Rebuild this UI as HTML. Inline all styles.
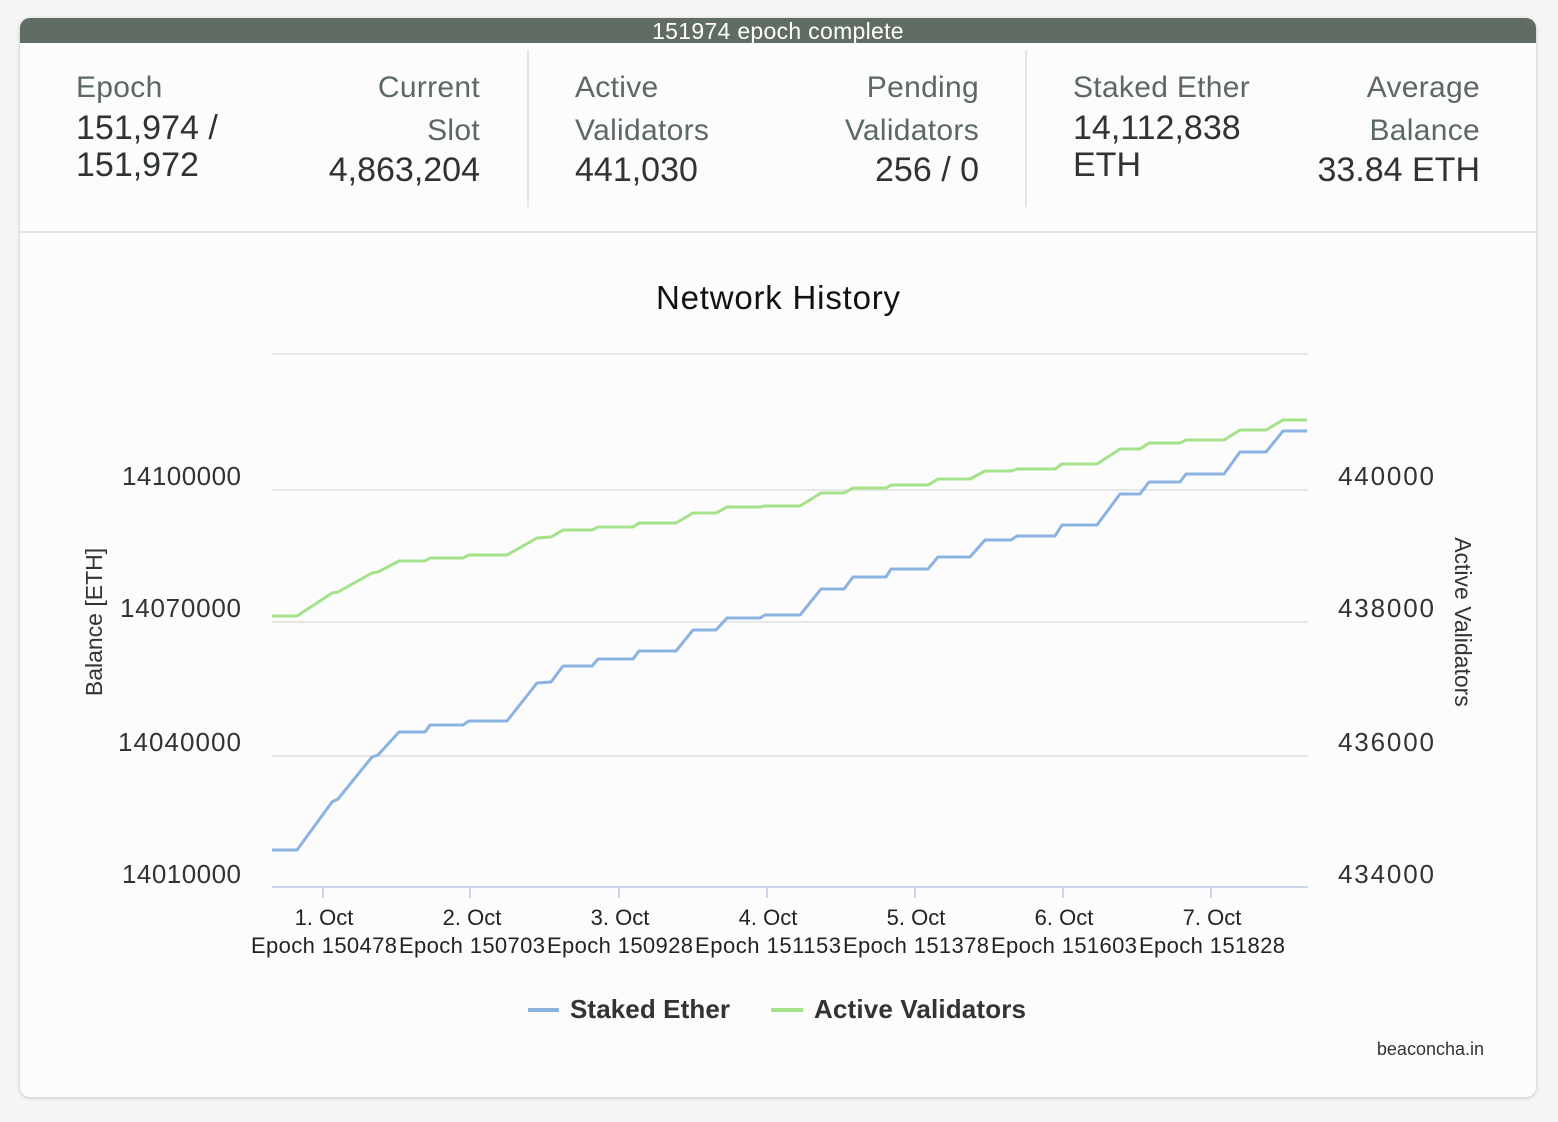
<!DOCTYPE html>
<html><head><meta charset="utf-8"><style>
body{margin:0;width:1558px;height:1122px;background:#f5f5f5;font-family:"Liberation Sans",sans-serif;position:relative;overflow:hidden}
.card{position:absolute;left:20px;top:18px;width:1516px;height:1079px;background:#fcfcfc;border-radius:10px;box-shadow:0 1px 4px rgba(0,0,0,.2);overflow:hidden}
.bar{position:absolute;left:0;top:0;width:100%;height:25px;background:#616d64;color:#fff;font-size:23px;text-align:center;line-height:27px;letter-spacing:0.3px}
.t{position:absolute;font-size:30px;line-height:40px;color:#5c6862;white-space:nowrap;letter-spacing:0.3px}
.v{position:absolute;font-size:34px;line-height:40px;color:#2f3433;white-space:nowrap}
.vl{position:absolute;top:32px;width:2px;height:157px;background:#e4e4e4}
.hl{position:absolute;left:0;top:213px;width:100%;height:2px;background:#e2e2e2}
svg{position:absolute;left:0;top:0}
</style></head><body>
<div class="card">
<div class="bar">151974 epoch complete</div>
<div class="t" style="left:56px;top:50px">Epoch</div>
<div class="v" style="left:56px;top:90px">151,974 /</div>
<div class="v" style="left:56px;top:127px">151,972</div>
<div class="t" style="right:1056px;top:50px">Current</div>
<div class="t" style="right:1056px;top:93px">Slot</div>
<div class="v" style="right:1056px;top:132px">4,863,204</div>
<div class="vl" style="left:507px"></div>
<div class="t" style="left:555px;top:50px">Active</div>
<div class="t" style="left:555px;top:93px">Validators</div>
<div class="v" style="left:555px;top:132px">441,030</div>
<div class="t" style="right:557px;top:50px">Pending</div>
<div class="t" style="right:557px;top:93px">Validators</div>
<div class="v" style="right:557px;top:132px">256 / 0</div>
<div class="vl" style="left:1005px"></div>
<div class="t" style="left:1053px;top:50px">Staked Ether</div>
<div class="v" style="left:1053px;top:90px">14,112,838</div>
<div class="v" style="left:1053px;top:127px">ETH</div>
<div class="t" style="right:56px;top:50px">Average</div>
<div class="t" style="right:56px;top:93px">Balance</div>
<div class="v" style="right:56px;top:132px">33.84 ETH</div>
<div class="hl"></div>
</div>
<svg width="1558" height="1122" font-family="Liberation Sans, sans-serif">
<text x="656" y="309" font-size="33" textLength="244" fill="#111">Network History</text>
<g stroke="#e6e6e6" stroke-width="2">
<line x1="272" y1="354" x2="1308" y2="354"/><line x1="272" y1="490" x2="1308" y2="490"/><line x1="272" y1="622" x2="1308" y2="622"/><line x1="272" y1="756" x2="1308" y2="756"/></g>
<line x1="272" y1="887" x2="1308" y2="887" stroke="#ccd6eb" stroke-width="2"/>
<g stroke="#ccd6eb" stroke-width="2"><line x1="323" y1="887" x2="323" y2="898"/><line x1="470" y1="887" x2="470" y2="898"/><line x1="619" y1="887" x2="619" y2="898"/><line x1="767" y1="887" x2="767" y2="898"/><line x1="915" y1="887" x2="915" y2="898"/><line x1="1063" y1="887" x2="1063" y2="898"/><line x1="1211" y1="887" x2="1211" y2="898"/></g>
<g font-size="26" fill="#333">
<text x="122" y="485" textLength="119">14100000</text><text x="120" y="617" textLength="121">14070000</text><text x="118" y="751" textLength="123">14040000</text><text x="122" y="883" textLength="119">14010000</text></g>
<g font-size="26" fill="#333">
<text x="1338" y="485" textLength="96">440000</text><text x="1338" y="617" textLength="96">438000</text><text x="1338" y="751" textLength="96">436000</text><text x="1338" y="883" textLength="96">434000</text></g>
<text transform="translate(102,622) rotate(-90)" font-size="23" fill="#333" text-anchor="middle">Balance [ETH]</text>
<text transform="translate(1455,622) rotate(90)" font-size="23" fill="#333" text-anchor="middle">Active Validators</text>
<g font-size="22" fill="#222" text-anchor="middle">
<text x="324" y="925">1. Oct</text><text x="324" y="953" textLength="146">Epoch 150478</text>
<text x="472" y="925">2. Oct</text><text x="472" y="953" textLength="146">Epoch 150703</text>
<text x="620" y="925">3. Oct</text><text x="620" y="953" textLength="146">Epoch 150928</text>
<text x="768" y="925">4. Oct</text><text x="768" y="953" textLength="146">Epoch 151153</text>
<text x="916" y="925">5. Oct</text><text x="916" y="953" textLength="146">Epoch 151378</text>
<text x="1064" y="925">6. Oct</text><text x="1064" y="953" textLength="146">Epoch 151603</text>
<text x="1212" y="925">7. Oct</text><text x="1212" y="953" textLength="146">Epoch 151828</text></g>
<polyline fill="none" stroke="#a4e28a" stroke-width="3" stroke-linejoin="round" points="272,616 297,616 332,593 338,592 372,573 378,572 399,561 425,561 430,558 463,558 469,555 507,555 537,538 551,537 563,530 592,530 598,527 633,527 639,523 676,523 693,513 716,513 727,507 760,507 765,506 800,506 821,493 844,493 853,488 886,488 891,485 928,485 938,479 970,479 985,471 1011,471 1017,469 1055,469 1062,464 1097,464 1120,449 1140,449 1149,443 1180,443 1186,440 1224,440 1240,430 1266,430 1283,420 1307,420"/>
<polyline fill="none" stroke="#8bb3e2" stroke-width="3" stroke-linejoin="round" points="272,850 297,850 332,802 338,799 372,757 378,755 399,732 425,732 430,725 463,725 469,721 507,721 537,683 551,682 563,666 592,666 598,659 633,659 639,651 676,651 693,630 716,630 727,618 760,618 765,615 800,615 821,589 844,589 853,577 886,577 891,569 928,569 938,557 970,557 985,540 1011,540 1017,536 1055,536 1062,525 1097,525 1120,494 1140,494 1149,482 1180,482 1186,474 1224,474 1240,452 1266,452 1283,431 1307,431"/>
<line x1="528" y1="1010" x2="559" y2="1010" stroke="#8bb3e2" stroke-width="4"/>
<text x="570" y="1018" font-size="26" font-weight="bold" fill="#333" textLength="160">Staked Ether</text>
<line x1="771" y1="1010" x2="803" y2="1010" stroke="#a4e28a" stroke-width="4"/>
<text x="814" y="1018" font-size="26" font-weight="bold" fill="#333" textLength="212">Active Validators</text>
<text x="1484" y="1055" font-size="18" fill="#333" text-anchor="end">beaconcha.in</text>
</svg>
</body></html>
